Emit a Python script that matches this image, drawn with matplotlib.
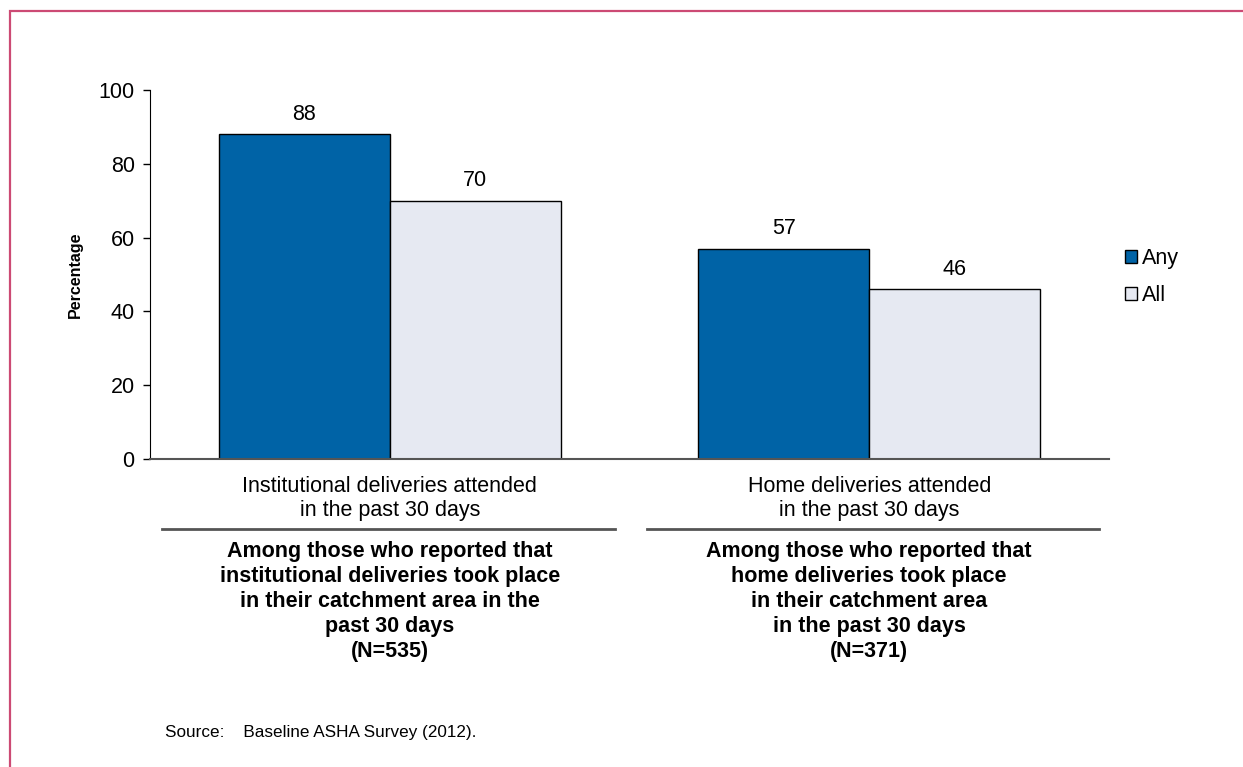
import matplotlib
matplotlib.use("Agg")
import matplotlib.pyplot as plt
from matplotlib.patches import Rectangle, Patch
from matplotlib.lines import Line2D
import numpy as np

plt.rcParams['font.family'] = ['Liberation Sans', 'DejaVu Sans']

categories = ["Institutional deliveries attended\nin the past 30 days",
              "Home deliveries attended\nin the past 30 days"]
series_names = ["Any", "All"]
any_values = [88, 57]
all_values = [70, 46]
group_notes = [
    "Among those who reported that\ninstitutional deliveries took place\nin their catchment area in the\npast 30 days\n(N=535)",
    "Among those who reported that\nhome deliveries took place\nin their catchment area\nin the past 30 days\n(N=371)",
]
y_ticks = [0, 20, 40, 60, 80, 100]
source_text = "Source:    Baseline ASHA Survey (2012)."

color_any = "#0063a6"
color_all = "#e6e9f2"

W, H = 1243, 767
fig = plt.figure(figsize=(W / 100, H / 100), dpi=100)

# outer frame
fig.add_artist(Rectangle((10 / W, -0.05), 1.2, 1 - 11 / H + 0.05,
                         transform=fig.transFigure, fill=False,
                         edgecolor="#cc4a74", linewidth=1.6))

ax = fig.add_axes([150 / W, 1 - 459 / H, 959 / W, 369 / H])
x = np.arange(len(categories))
bw = 0.357
b1 = ax.bar(x - bw / 2, any_values, bw, color=color_any, edgecolor="black",
            linewidth=1.0, label=series_names[0], zorder=2)
b2 = ax.bar(x + bw / 2, all_values, bw, color=color_all, edgecolor="black",
            linewidth=1.0, label=series_names[1], zorder=2)

for bars, vals in ((b1, any_values), (b2, all_values)):
    for rect, v in zip(bars, vals):
        ax.annotate(f"{v}", (rect.get_x() + rect.get_width() / 2, v),
                    xytext=(0, 7), textcoords="offset points",
                    ha="center", va="bottom", fontsize=15.5)

ax.set_xlim(-0.5, 1.5)
ax.set_ylim(0, 100)
ax.set_yticks(y_ticks)
ax.tick_params(axis="y", labelsize=15.5, length=5, width=1, direction="out", pad=6)
ax.set_xticks(x)
ax.set_xticklabels(categories, fontsize=15.5, linespacing=1.2)
ax.tick_params(axis="x", length=0, pad=12)
for s in ("top", "right"):
    ax.spines[s].set_visible(False)
ax.spines["left"].set_color("black")
ax.spines["bottom"].set_color("#555555")
ax.spines["bottom"].set_linewidth(1.5)
ax.set_ylabel("Percentage", fontsize=11.5, fontweight="bold", labelpad=11)

# separators and group notes under the categories
sep_y = 1 - 529 / H
fig.add_artist(Line2D([162 / W, 615 / W], [sep_y, sep_y], color="#555555", linewidth=2))
fig.add_artist(Line2D([647 / W, 1099 / W], [sep_y, sep_y], color="#555555", linewidth=2))
for xc, note in zip(x, group_notes):
    xf = fig.transFigure.inverted().transform(ax.transData.transform((xc, 0)))[0]
    fig.text(xf, 1 - 541 / H, note, ha="center", va="top", fontsize=15.5,
             fontweight="bold", linespacing=1.25)

handles = [Patch(facecolor=color_any, edgecolor="black"),
           Patch(facecolor=color_all, edgecolor="black")]
fig.legend(handles, series_names, loc="upper left",
           bbox_to_anchor=(1114 / W, 1 - 237 / H), frameon=False,
           fontsize=15.5, handlelength=0.55, handleheight=0.55,
           handletextpad=0.25, labelspacing=0.75, borderpad=0)

fig.text(165 / W, 1 - 733 / H, source_text, ha="left", va="center", fontsize=12.3)

fig.savefig("out.png", dpi=100)
